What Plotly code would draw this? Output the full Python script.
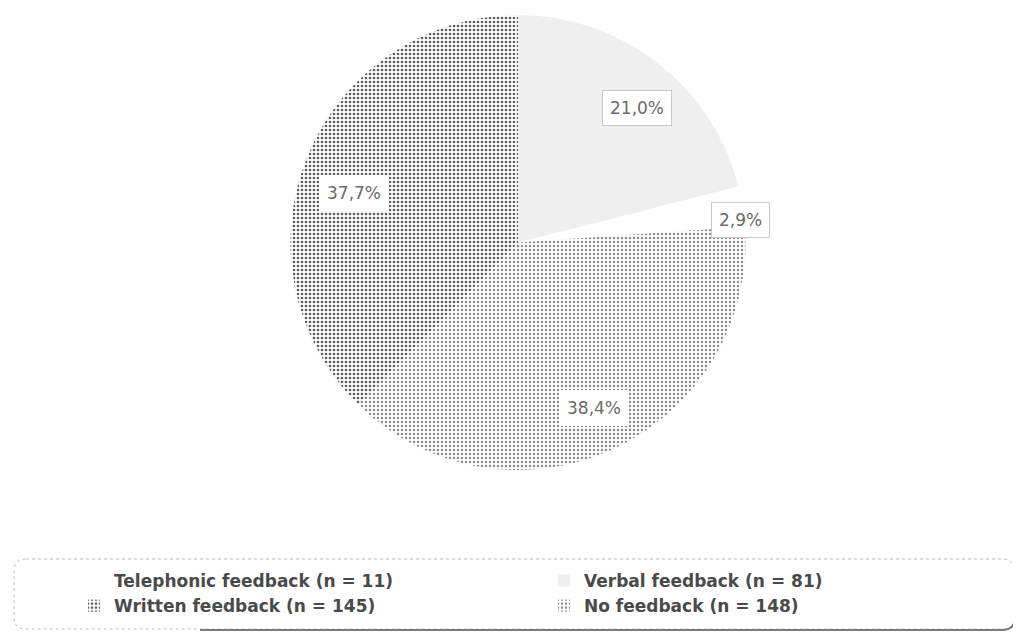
import math
import plotly.graph_objects as go

# ---- data ----
labels = ["Telephonic feedback (n = 11)", "Verbal feedback (n = 81)",
          "Written feedback (n = 145)", "No feedback (n = 148)"]
counts = [11, 81, 145, 148]
pct_labels = ["2,9%", "21,0%", "37,7%", "38,4%"]

# ---- styling ----
OFF = 8                      # default page margin of the html body
W, H = 1021 - OFF, 634 - OFF
slice_colors = ["#ffffff", "#efefef", "#ffffff", "#ffffff"]
pattern_shapes = ["", "", ".", "."]
pattern_fg = ["#ffffff", "#efefef", "#5e5e5e", "#8c8c8c"]
pattern_solid = [0.3, 0.3, 0.36, 0.3]
label_radius = [1.12, 0.85, 0.78, 0.8]
label_border = ["#c8c8c8", "#c8c8c8", "#ffffff", "#ffffff"]


def px_x(x):
    return (x - OFF) / W


def px_y(y):
    return 1 - (y - OFF) / H


total = sum(counts)
fracs = [c / total for c in counts]
rotation = 360 * fracs[1]  # boundary between verbal and telephonic

pie_top, pie_bot, pie_cx = 15, 470, 518
cy_px = (pie_top + pie_bot) / 2
r_px = (pie_bot - pie_top) / 2

fig = go.Figure()
fig.add_trace(go.Pie(
    labels=labels, values=counts, sort=False, direction="counterclockwise",
    rotation=rotation, textinfo="none", hoverinfo="skip",
    marker=dict(colors=slice_colors, line=dict(width=0),
                pattern=dict(shape=pattern_shapes, fgcolor=pattern_fg,
                             bgcolor=slice_colors, size=4, solidity=pattern_solid)),
    domain=dict(x=[px_x(pie_cx - 300), px_x(pie_cx + 300)],
                y=[px_y(pie_bot), px_y(pie_top)]),
))

# label annotations at slice mid-angles (clockwise from 12 o'clock)
A = rotation + 360 * fracs[0]
for i, f in enumerate(fracs):
    mid = math.radians(A - 180 * f)
    A -= 360 * f
    rr = label_radius[i] * r_px
    xp = pie_cx + rr * math.sin(mid)
    yp = cy_px - rr * math.cos(mid)
    fig.add_annotation(x=px_x(xp), y=px_y(yp), xref="paper", yref="paper",
                       text=pct_labels[i], showarrow=False,
                       font=dict(family="DejaVu Sans", size=17, color="#6a6a6a"),
                       bgcolor="#ffffff", bordercolor=label_border[i],
                       borderwidth=1, borderpad=7)


# rounded legend frame
def P(x, y):
    return f"{px_x(x):.5f},{px_y(y):.5f}"


x0, y0, x1, y1, rad = 14, 559, 1014, 629, 12
path = (f"M {P(x0 + rad, y0)} L {P(x1 - rad, y0)} Q {P(x1, y0)} {P(x1, y0 + rad)} "
        f"L {P(x1, y1 - rad)} Q {P(x1, y1)} {P(x1 - rad, y1)} L {P(x0 + rad, y1)} "
        f"Q {P(x0, y1)} {P(x0, y1 - rad)} L {P(x0, y0 + rad)} Q {P(x0, y0)} {P(x0 + rad, y0)} Z")
fig.add_shape(type="path", path=path, xref="paper", yref="paper",
              line=dict(color="#bdbdbd", width=1, dash="dot"), layer="below")
shadow = (f"M {P(x1 + 1, y0 + 25)} L {P(x1 + 1, y1 - rad)} Q {P(x1 + 1, y1 + 1)} "
          f"{P(x1 - rad, y1 + 1)} L {P(200, y1 + 1)}")
fig.add_shape(type="path", path=shadow, xref="paper", yref="paper",
              line=dict(color="#7a7a7a", width=2))

fig.update_layout(
    width=W, height=H, margin=dict(l=0, r=0, t=0, b=0),
    paper_bgcolor="#ffffff", plot_bgcolor="#ffffff",
    showlegend=True,
    legend=dict(orientation="h", x=px_x(74), y=px_y(563), xanchor="left", yanchor="top",
                entrywidth=425, entrywidthmode="pixels", traceorder="normal",
                font=dict(family="DejaVu Sans", size=17, color="#4a4a4a", weight="bold"),
                bgcolor="rgba(0,0,0,0)", itemsizing="constant", tracegroupgap=0),
)

fig.write_html("out.html")
